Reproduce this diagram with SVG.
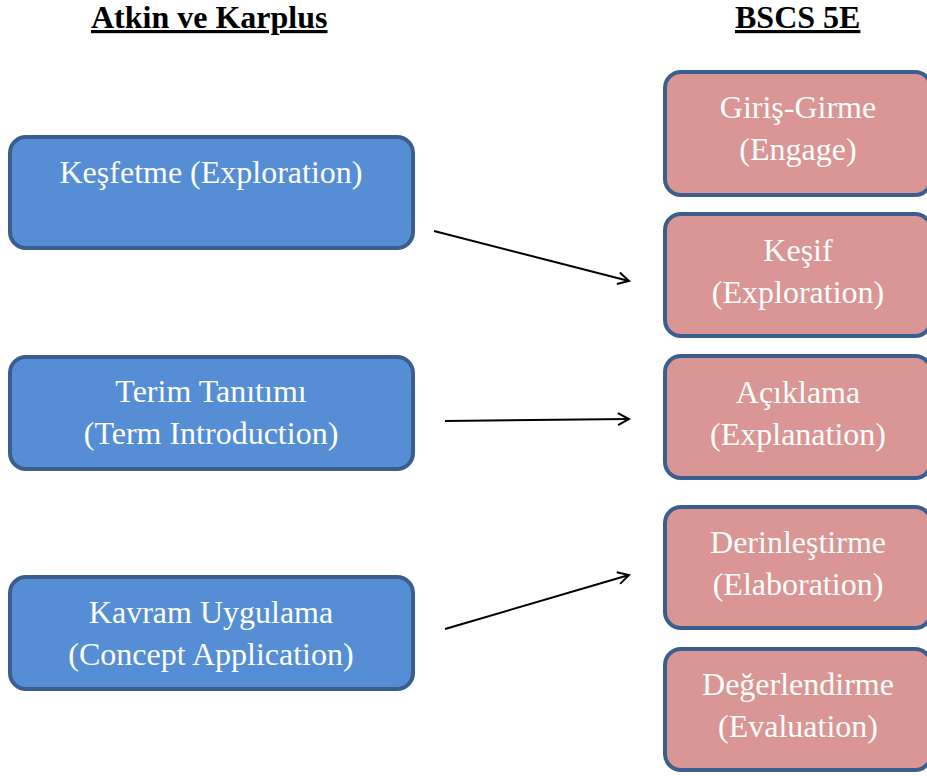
<svg xmlns="http://www.w3.org/2000/svg" width="927" height="776" viewBox="0 0 927 776">
<style>
.hdr{font-family:"Liberation Serif","Times New Roman",serif;font-weight:bold;font-size:32px;fill:#000;text-decoration:underline;}
.t{font-family:"Liberation Serif","Times New Roman",serif;font-size:32px;fill:#fff;text-anchor:middle;}
.blue{fill:#558ED5;stroke:#3A5F8F;stroke-width:4;}
.pink{fill:#D99694;stroke:#3A5F8F;stroke-width:4;}
.conn{stroke:#000;stroke-width:2;fill:none;marker-end:url(#arr);}
</style>
<defs>
<marker id="arr" markerWidth="14" markerHeight="14" refX="12" refY="7" orient="auto" markerUnits="userSpaceOnUse">
<path d="M1,1 L12,7 L1,13" fill="none" stroke="#000" stroke-width="2"/>
</marker>
</defs>
<rect width="927" height="776" fill="#fff"/>
<text class="hdr" x="91" y="28">Atkin ve Karplus</text>
<text class="hdr" x="735" y="28">BSCS 5E</text>

<g id="kesfetme">
<rect class="blue" x="10" y="137" width="403" height="111" rx="16"/>
<text class="t" x="211" y="183">Keşfetme (Exploration)</text>
</g>
<g id="terim">
<rect class="blue" x="10" y="357" width="403" height="112" rx="16"/>
<text class="t" x="211" y="402">Terim Tanıtımı</text>
<text class="t" x="211" y="444">(Term Introduction)</text>
</g>
<g id="kavram">
<rect class="blue" x="10" y="577" width="403" height="112" rx="16"/>
<text class="t" x="211" y="623">Kavram Uygulama</text>
<text class="t" x="211" y="665">(Concept Application)</text>
</g>

<g id="engage">
<rect class="pink" x="665" y="72" width="266" height="123" rx="16"/>
<text class="t" x="798" y="118">Giriş-Girme</text>
<text class="t" x="798" y="160">(Engage)</text>
</g>
<g id="explore">
<rect class="pink" x="665" y="214" width="266" height="122" rx="16"/>
<text class="t" x="798" y="261">Keşif</text>
<text class="t" x="798" y="303">(Exploration)</text>
</g>
<g id="explain">
<rect class="pink" x="665" y="356" width="266" height="122" rx="16"/>
<text class="t" x="798" y="403">Açıklama</text>
<text class="t" x="798" y="445">(Explanation)</text>
</g>
<g id="elaborate">
<rect class="pink" x="665" y="507" width="266" height="121" rx="16"/>
<text class="t" x="798" y="553">Derinleştirme</text>
<text class="t" x="798" y="595">(Elaboration)</text>
</g>
<g id="evaluate">
<rect class="pink" x="665" y="649" width="266" height="121" rx="16"/>
<text class="t" x="798" y="695">Değerlendirme</text>
<text class="t" x="798" y="737">(Evaluation)</text>
</g>

<g id="connectors">
<line class="conn" x1="434" y1="231" x2="629" y2="281"/>
<line class="conn" x1="445" y1="421" x2="629" y2="419"/>
<line class="conn" x1="445" y1="629" x2="629" y2="575"/>
</g>
</svg>
